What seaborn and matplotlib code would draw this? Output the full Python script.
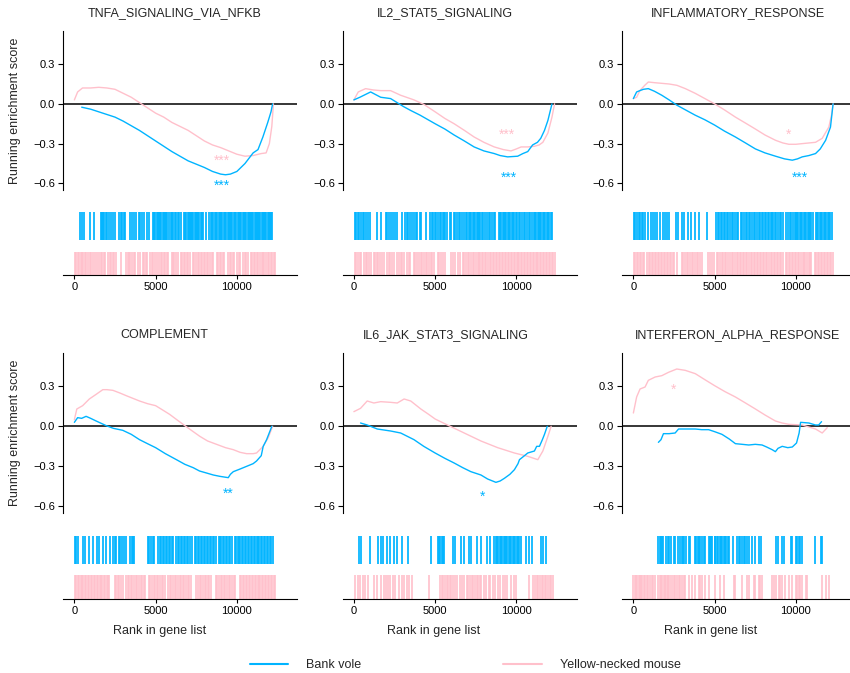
import matplotlib
matplotlib.use("Agg")
import matplotlib.pyplot as plt
from matplotlib.lines import Line2D
import seaborn as sns

# ---------------- data ----------------
titles = ["TNFA_SIGNALING_VIA_NFKB", "IL2_STAT5_SIGNALING", "INFLAMMATORY_RESPONSE",
          "COMPLEMENT", "IL6_JAK_STAT3_SIGNALING", "INTERFERON_ALPHA_RESPONSE"]
species = ["Bank vole", "Yellow-necked mouse"]
x_ticks = [0, 5000, 10000]
x_tick_labels = ["0", "5000", "10000"]
y_ticks = [-0.6, -0.3, 0.0, 0.3]
y_tick_labels = ["\u22120.6", "\u22120.3", "0.0", "0.3"]

# running enrichment score curves (rank, score)
tnfa_vole_rank = [450, 1000, 1500, 2000, 2500, 3000, 3500, 4000, 4500, 5000, 5500, 6000, 6500, 7000, 7500, 7700,
                  8000, 8500, 9000, 9300, 9600, 10000, 10500, 11000, 11300, 11600, 11900, 12100, 12200]
tnfa_vole_es = [-0.025, -0.04, -0.06, -0.08, -0.1, -0.13, -0.165, -0.2, -0.24, -0.28, -0.32, -0.36, -0.395, -0.43,
                -0.455, -0.465, -0.48, -0.51, -0.53, -0.535, -0.53, -0.51, -0.45, -0.37, -0.345, -0.25, -0.14,
                -0.06, 0.0]
tnfa_mouse_rank = [0, 200, 500, 1000, 1500, 2000, 2500, 3000, 3500, 4000, 4500, 5000, 5500, 6000, 6500, 7000, 7500,
                   8000, 8500, 9000, 9500, 10000, 10500, 11000, 11500, 11800, 12000, 12150, 12250]
tnfa_mouse_es = [0.03, 0.09, 0.12, 0.12, 0.125, 0.12, 0.11, 0.08, 0.05, 0.01, -0.03, -0.07, -0.10, -0.14, -0.17,
                 -0.20, -0.24, -0.28, -0.31, -0.33, -0.355, -0.38, -0.395, -0.39, -0.375, -0.37, -0.30, -0.17, 0.0]

il2_vole_rank = [0, 370, 1030, 1650, 2260, 3050, 3500, 4070, 5000, 5600, 6170, 6800, 7400, 8000, 8640, 9000, 9460,
                 10080, 10400, 10700, 11000, 11300, 11500, 11730, 11940, 12190]
il2_vole_es = [0.03, 0.05, 0.09, 0.05, 0.04, -0.02, -0.05, -0.085, -0.15, -0.19, -0.235, -0.28, -0.325, -0.355,
               -0.375, -0.39, -0.40, -0.395, -0.375, -0.36, -0.31, -0.29, -0.26, -0.2, -0.125, 0.0]
il2_mouse_rank = [0, 270, 720, 1200, 1650, 2260, 2880, 3700, 4320, 5000, 5600, 6170, 6800, 7400, 8000, 8640, 9200,
                  9670, 10000, 10290, 10700, 11110, 11400, 11630, 11940, 12190, 12350]
il2_mouse_es = [0.03, 0.09, 0.115, 0.105, 0.10, 0.10, 0.065, 0.03, -0.005, -0.06, -0.11, -0.15, -0.20, -0.25,
                -0.29, -0.325, -0.345, -0.355, -0.34, -0.325, -0.325, -0.32, -0.31, -0.29, -0.22, -0.10, 0.0]

infl_vole_rank = [0, 200, 400, 620, 920, 1300, 1750, 2200, 2680, 3200, 3800, 4400, 5000, 5600, 6280, 6900, 7510,
                  8100, 8750, 9300, 9780, 10100, 10390, 10800, 11210, 11500, 11830, 12130, 12290]
infl_vole_es = [0.04, 0.09, 0.10, 0.11, 0.115, 0.095, 0.065, 0.03, -0.01, -0.045, -0.085, -0.12, -0.16, -0.205,
                -0.25, -0.295, -0.34, -0.37, -0.395, -0.415, -0.425, -0.415, -0.40, -0.39, -0.375, -0.34, -0.275,
                -0.175, 0.0]
infl_mouse_rank = [0, 200, 400, 700, 920, 1300, 1750, 2200, 2680, 3200, 3800, 4400, 5000, 5600, 6280, 6900, 7510,
                   8100, 8750, 9200, 9570, 10000, 10390, 10800, 11210, 11620, 12030, 12200, 12290]
infl_mouse_es = [0.04, 0.05, 0.10, 0.14, 0.165, 0.16, 0.155, 0.15, 0.14, 0.115, 0.08, 0.04, 0.0, -0.045, -0.10,
                 -0.145, -0.19, -0.235, -0.275, -0.295, -0.305, -0.305, -0.30, -0.295, -0.29, -0.26, -0.175, -0.08,
                 0.0]

comp_vole_rank = [0, 200, 450, 720, 1000, 1340, 1960, 2400, 2980, 3500, 4010, 4500, 5000, 5600, 6280, 6800, 7310,
                  7700, 8130, 8550, 8950, 9470, 9600, 9780, 10200, 10600, 11000, 11210, 11500, 11620, 11830, 12150]
comp_vole_es = [0.03, 0.065, 0.06, 0.075, 0.06, 0.04, 0.005, -0.015, -0.03, -0.06, -0.10, -0.13, -0.16, -0.205,
                -0.25, -0.285, -0.31, -0.335, -0.35, -0.365, -0.375, -0.385, -0.36, -0.34, -0.32, -0.30, -0.28,
                -0.26, -0.22, -0.15, -0.10, 0.0]
comp_mouse_rank = [0, 150, 510, 920, 1340, 1750, 2000, 2370, 2800, 3190, 3600, 4010, 4500, 5000, 5400, 5860, 6300,
                   6690, 7200, 7720, 8200, 8750, 9300, 9780, 10200, 10600, 11000, 11210, 11620, 11930, 12200]
comp_mouse_es = [0.05, 0.13, 0.155, 0.205, 0.24, 0.275, 0.275, 0.27, 0.25, 0.23, 0.21, 0.19, 0.17, 0.155, 0.125,
                 0.09, 0.05, 0.015, -0.03, -0.075, -0.11, -0.135, -0.16, -0.175, -0.195, -0.205, -0.205, -0.20,
                 -0.15, -0.085, 0.0]

il6_vole_rank = [410, 820, 1440, 2260, 2880, 3700, 4300, 5000, 5600, 6170, 6700, 7200, 7820, 8230, 8740, 9000, 9260,
                 9600, 9880, 10100, 10190, 10500, 10700, 11110, 11250, 11420, 11600, 11730, 11900]
il6_vole_es = [0.025, 0.01, -0.02, -0.035, -0.05, -0.10, -0.15, -0.2, -0.24, -0.275, -0.31, -0.34, -0.365, -0.395,
               -0.42, -0.41, -0.39, -0.36, -0.325, -0.28, -0.25, -0.22, -0.2, -0.185, -0.15, -0.15, -0.10, -0.06, 0.0]
il6_mouse_rank = [0, 410, 820, 1230, 1650, 2260, 2670, 3090, 3500, 4120, 4600, 5000, 5760, 6790, 7820, 8850, 9880,
                  10700, 11320, 11630, 11940, 12140]
il6_mouse_es = [0.11, 0.135, 0.19, 0.175, 0.185, 0.18, 0.175, 0.205, 0.19, 0.13, 0.09, 0.055, 0.01, -0.05, -0.11,
                -0.16, -0.20, -0.225, -0.25, -0.185, -0.075, 0.0]

ifn_vole_rank = [1540, 1700, 1850, 2200, 2570, 2780, 3300, 3810, 4200, 4630, 5000, 5450, 5900, 6280, 6700, 7100, 7500,
                 7920, 8200, 8540, 8740, 8900, 9160, 9500, 9780, 10040, 10200, 10290, 10800, 11210, 11400, 11580]
ifn_vole_es = [-0.12, -0.10, -0.055, -0.055, -0.05, -0.02, -0.02, -0.02, -0.025, -0.025, -0.04, -0.06, -0.095, -0.13,
               -0.135, -0.14, -0.135, -0.14, -0.155, -0.175, -0.19, -0.165, -0.15, -0.16, -0.155, -0.125, -0.05,
               0.03, 0.025, 0.01, 0.01, 0.035]
ifn_mouse_rank = [0, 200, 410, 720, 920, 1340, 1750, 2160, 2670, 3190, 3810, 4400, 5000, 5640, 6280, 6900, 7510, 8100,
                  8740, 9150, 9570, 10390, 10800, 11210, 11620, 11930]
ifn_mouse_es = [0.10, 0.22, 0.28, 0.295, 0.345, 0.37, 0.38, 0.405, 0.43, 0.42, 0.395, 0.35, 0.305, 0.26, 0.22, 0.175,
                0.13, 0.085, 0.04, 0.025, 0.015, 0.01, -0.005, -0.02, -0.05, -0.01]

# gene-set hit positions (barcodes)
tnfa_vole_hits = [370, 470, 600, 950, 1190, 1640, 1700, 1760, 1850, 1940, 2000, 2110, 2250, 2400, 2480, 2770, 2870,
                  2950, 3050, 3140, 3420, 3550, 3690, 3790, 3960, 4060, 4160, 4300, 4450, 4610, 4820, 4880, 4950,
                  5060, 5120, 5200, 5280, 5350, 5430, 5500, 5580, 5650, 5720, 5800, 5950, 6020, 6100, 6180, 6250,
                  6350, 6450, 6560, 6760, 6830, 6900, 6970, 7050, 7120, 7200, 7260, 7320, 7400, 7470, 7550, 7620,
                  7700, 7780, 7860, 7930, 8100, 8260, 8400, 8470, 8550, 8650, 8720, 8800, 8880, 8950, 9030, 9100,
                  9180, 9250, 9330, 9430, 9500, 9570, 9650, 9720, 9800, 9870, 9940, 10050, 10120, 10200, 10270,
                  10350, 10420, 10500, 10560, 10660, 10730, 10800, 10870, 10950, 11020, 11100, 11170, 11250, 11320,
                  11380, 11450, 11520, 11600, 11670, 11750, 11820, 11900, 11970, 12040, 12110, 12180]
tnfa_mouse_hits = [20, 110, 200, 290, 380, 470, 560, 650, 740, 820, 960, 1050, 1140, 1240, 1420, 1520, 1610, 1700,
                   1800, 1890, 2080, 2170, 2260, 2360, 2460, 2560, 2870, 3180, 3270, 3360, 3450, 3550, 3640, 3730,
                   3920, 4010, 4200, 4290, 4380, 4480, 4660, 4760, 4850, 4950, 5060, 5230, 5320, 5420, 5510, 5600,
                   5700, 5790, 5980, 6070, 6160, 6260, 6350, 6540, 6630, 6720, 6820, 6910, 7000, 7100, 7280, 7380,
                   7480, 7590, 7680, 7780, 7870, 7960, 8060, 8150, 8250, 8340, 8440, 8550, 8770, 8860, 8960, 9050,
                   9140, 9230, 9470, 9560, 9650, 9750, 9840, 10020, 10120, 10210, 10400, 10490, 10580, 10680, 10860,
                   10960, 11050, 11140, 11240, 11330, 11420, 11520, 11610, 11700, 11800, 11890, 11980, 12080, 12170,
                   12260, 12340]

il2_vole_hits = [50, 150, 250, 330, 450, 560, 650, 760, 870, 1000, 1430, 1640, 1950, 2050, 2150, 2300, 2400, 2500,
                 2660, 2970, 3130, 3250, 3360, 3480, 3590, 3700, 3800, 3890, 4040, 4160, 4410, 4710, 4800, 4860,
                 4980, 5080, 5180, 5280, 5380, 5480, 5560, 5630, 5740, 5900, 6000, 6150, 6250, 6350, 6450, 6560,
                 6660, 6760, 6870, 6970, 7070, 7150, 7230, 7310, 7390, 7470, 7550, 7620, 7680, 7790, 7880, 7970,
                 8080, 8180, 8300, 8400, 8500, 8600, 8710, 8910, 8990, 9070, 9150, 9230, 9310, 9390, 9470, 9550,
                 9630, 9710, 9790, 9870, 9950, 10040, 10140, 10250, 10350, 10450, 10560, 10660, 10760, 10860, 10960,
                 11060, 11140, 11220, 11300, 11380, 11460, 11540, 11620, 11700, 11780, 11860, 11940, 12020, 12100,
                 12190]
il2_mouse_hits = [60, 160, 250, 350, 450, 640, 740, 830, 930, 1030, 1220, 1320, 1410, 1510, 1620, 1720, 1840, 2050,
                  2150, 2250, 2350, 2450, 2660, 2760, 2870, 2970, 3080, 3280, 3380, 3480, 3690, 3790, 3900, 4000,
                  4100, 4200, 4310, 4410, 4510, 4610, 4720, 4820, 4930, 5150, 5260, 5370, 5480, 5590, 6000, 6100,
                  6200, 6400, 6500, 6700, 6800, 6900, 7000, 7100, 7200, 7300, 7380, 7520, 7610, 7700, 7790, 7880,
                  7970, 8070, 8160, 8260, 8350, 8450, 8540, 8630, 8720, 8820, 8910, 9020, 9110, 9200, 9290, 9380,
                  9470, 9560, 9650, 9740, 9830, 9920, 10010, 10100, 10190, 10280, 10370, 10460, 10550, 10640, 10730,
                  10820, 10910, 11000, 11090, 11180, 11270, 11360, 11450, 11540, 11630, 11720, 11810, 11900, 11990,
                  12080, 12170, 12260, 12360]

infl_vole_hits = [30, 130, 230, 330, 430, 530, 620, 720, 920, 1070, 1190, 1330, 1480, 1640, 1800, 1950, 2090, 2210,
                  2620, 2770, 2970, 3110, 3380, 3520, 3790, 4060, 4510, 5080, 5180, 5280, 5380, 5480, 5560, 5650,
                  5750, 5850, 5950, 6050, 6150, 6250, 6350, 6450, 6600, 6700, 6800, 6900, 7000, 7100, 7200, 7300,
                  7400, 7500, 7600, 7700, 7790, 7890, 7990, 8080, 8170, 8260, 8350, 8440, 8530, 8620, 8710, 8800,
                  8900, 9000, 9100, 9220, 9380, 9530, 9630, 9730, 9830, 9940, 10000, 10080, 10160, 10240, 10320,
                  10400, 10480, 10560, 10640, 10720, 10800, 10880, 10960, 11060, 11230, 11300, 11370, 11470, 11550,
                  11630, 11710, 11790, 11870, 11950, 12030, 12110, 12230]
infl_mouse_hits = [20, 110, 200, 300, 390, 480, 570, 660, 850, 940, 1040, 1130, 1220, 1320, 1410, 1500, 1600, 1690,
                   1780, 1880, 1970, 2060, 2160, 2250, 2340, 2440, 2530, 2660, 2970, 3070, 3170, 3270, 3380, 3480,
                   3580, 3690, 3790, 3900, 4000, 4100, 4200, 4610, 4730, 4840, 4960, 5120, 5220, 5320, 5430, 5530,
                   5630, 5730, 5840, 5940, 6040, 6150, 6250, 6350, 6450, 6540, 6640, 6730, 6830, 6920, 7020, 7110,
                   7210, 7300, 7400, 7490, 7590, 7680, 7780, 7870, 7970, 8060, 8160, 8250, 8350, 8440, 8540, 8630,
                   8730, 8820, 8920, 9010, 9110, 9220, 9380, 9470, 9570, 9660, 9750, 9850, 9940, 10030, 10130, 10220,
                   10310, 10410, 10500, 10590, 10690, 10780, 10870, 10960, 11170, 11260, 11350, 11440, 11540, 11630,
                   11720, 11810, 11900, 11990, 12090, 12190, 12290]

comp_vole_hits = [20, 120, 200, 510, 680, 880, 1130, 1380, 1540, 1750, 1960, 2200, 2370, 2470, 2570, 2720, 2820,
                  2920, 3030, 3190, 3440, 3520, 3600, 3700, 4530, 4620, 4720, 4810, 4900, 5150, 5240, 5340, 5430,
                  5530, 5620, 5720, 5810, 5900, 6000, 6100, 6250, 6350, 6450, 6540, 6640, 6740, 6830, 6920, 7020,
                  7120, 7220, 7420, 7510, 7600, 7700, 7790, 7880, 7970, 8060, 8150, 8240, 8330, 8420, 8510, 8600,
                  8690, 8870, 8960, 9050, 9140, 9230, 9320, 9410, 9500, 9590, 9680, 9860, 9950, 10040, 10130, 10220,
                  10310, 10400, 10490, 10580, 10670, 10760, 10850, 10940, 11030, 11120, 11210, 11300, 11390, 11480,
                  11570, 11660, 11750, 11840, 11930, 12020, 12110, 12200]
comp_mouse_hits = [20, 110, 200, 290, 380, 470, 560, 650, 740, 830, 920, 1010, 1100, 1190, 1280, 1370, 1460, 1550,
                   1640, 1730, 1820, 1910, 2000, 2080, 2160, 2470, 2570, 2670, 2770, 2870, 2970, 3170, 3270, 3370,
                   3470, 3570, 3670, 3770, 3870, 3970, 4070, 4170, 4270, 4370, 4570, 4670, 4770, 4870, 4970, 5070,
                   5170, 5270, 5370, 5470, 5570, 5770, 5870, 5970, 6070, 6170, 6270, 6370, 6470, 6570, 6670, 6770,
                   6870, 6970, 7070, 7200, 7510, 7610, 7710, 7810, 7910, 8010, 8110, 8210, 8310, 8410, 8700, 8800,
                   8900, 9000, 9100, 9200, 9300, 9400, 9500, 9600, 9700, 9800, 9880, 10190, 10280, 10370, 10460,
                   10550, 10640, 10730, 10820, 10910, 11000, 11090, 11180, 11270, 11360, 11450, 11540, 11630, 11720,
                   11810, 11900, 11990, 12080, 12170, 12260, 12350]

il6_vole_hits = [300, 450, 1000, 1480, 1650, 1810, 2020, 2200, 2450, 2680, 2950, 3300, 4750, 5150, 5220, 5300, 5400,
                 5480, 5560, 6100, 6200, 6600, 6800, 7100, 7200, 7550, 7850, 8200, 8350, 8650, 8730, 8810, 8890,
                 8970, 9050, 9130, 9210, 9290, 9370, 9450, 9530, 9610, 9690, 9770, 9850, 9930, 10010, 10090, 10170,
                 10270, 10600, 10800, 10950, 11500, 11650, 11850]
il6_mouse_hits = [50, 250, 400, 550, 700, 850, 1230, 1440, 1650, 1850, 1980, 2100, 2250, 2400, 2550, 2780, 2950,
                  3100, 3250, 3400, 3550, 4650, 5300, 5400, 5500, 5600, 5700, 5800, 5900, 6000, 6100, 6200, 6350,
                  6500, 6650, 6800, 6950, 7050, 7150, 7250, 7350, 7450, 7550, 7650, 7750, 7850, 8000, 8150, 8300,
                  8400, 8550, 8700, 8850, 9000, 9150, 9300, 9450, 9650, 9850, 10000, 10750, 11050, 11150, 11250,
                  11350, 11450, 11550, 11650, 11750, 11850, 11950, 12050, 12150, 12250]

ifn_vole_hits = [1540, 1620, 1700, 1750, 1850, 2000, 2120, 2200, 2330, 2470, 2570, 2740, 2880, 2980, 3040, 3090,
                 3230, 3400, 3500, 3810, 3880, 3960, 4040, 4120, 4220, 4320, 4420, 4630, 4700, 4770, 4840, 5000,
                 5040, 5150, 5230, 5310, 5380, 5450, 5560, 5640, 5720, 5800, 5870, 6130, 6380, 6480, 6580, 6680,
                 6790, 6890, 6990, 7100, 7310, 7510, 7720, 7860, 8750, 8910, 9120, 9260, 9670, 9780, 9980, 10080,
                 10180, 10280, 10390, 11170, 11550, 11620]
ifn_mouse_hits = [0, 80, 160, 240, 320, 400, 480, 560, 640, 720, 820, 920, 1030, 1130, 1230, 1340, 1540, 1620, 1700,
                  1780, 1860, 1940, 2020, 2100, 2160, 2260, 2360, 2470, 2570, 2680, 2780, 2880, 2980, 3090, 3190,
                  3400, 3600, 3810, 4010, 4110, 4220, 4420, 4630, 5040, 5350, 5560, 6170, 6280, 6690, 7000, 7100,
                  7410, 7510, 7720, 7820, 7920, 8540, 8640, 8750, 8950, 9050, 9160, 9360, 9570, 9780, 9980, 10080,
                  10180, 10280, 10390, 10600, 10700, 11630, 11830, 12040]

# significance labels: (series index, text, rank, score)
tnfa_sig = [(1, "***", 9100, -0.405), (0, "***", 9100, -0.59)]
il2_sig = [(1, "***", 9420, -0.205), (0, "***", 9530, -0.535)]
infl_sig = [(1, "*", 9570, -0.205), (0, "***", 10250, -0.535)]
comp_sig = [(0, "**", 9470, -0.48)]
il6_sig = [(0, "*", 7920, -0.50)]
ifn_sig = [(1, "*", 2470, 0.30)]

panels = [
    (tnfa_vole_rank, tnfa_vole_es, tnfa_mouse_rank, tnfa_mouse_es, tnfa_vole_hits, tnfa_mouse_hits, tnfa_sig),
    (il2_vole_rank, il2_vole_es, il2_mouse_rank, il2_mouse_es, il2_vole_hits, il2_mouse_hits, il2_sig),
    (infl_vole_rank, infl_vole_es, infl_mouse_rank, infl_mouse_es, infl_vole_hits, infl_mouse_hits, infl_sig),
    (comp_vole_rank, comp_vole_es, comp_mouse_rank, comp_mouse_es, comp_vole_hits, comp_mouse_hits, comp_sig),
    (il6_vole_rank, il6_vole_es, il6_mouse_rank, il6_mouse_es, il6_vole_hits, il6_mouse_hits, il6_sig),
    (ifn_vole_rank, ifn_vole_es, ifn_mouse_rank, ifn_mouse_es, ifn_vole_hits, ifn_mouse_hits, ifn_sig),
]

# ---------------- style ----------------
sns.set_style("ticks")
plt.rcParams["font.family"] = ["Liberation Sans", "DejaVu Sans"]
plt.rcParams["axes.unicode_minus"] = True
BLUE = "#00B4FF"
PINK = "#FFC0CB"
colors = [BLUE, PINK]

W, H = 850, 673
fig = plt.figure(figsize=(W / 100, H / 100), dpi=100)


def box(left, top, width, height):
    return [left / W, 1 - (top + height) / H, width / W, height / H]


col_left = [63, 342.5, 622]
ax_w = 234
es_top = [31, 353]
es_h = [159, 160]
blue_top = [212, 536]
blue_h = 28
pink_top = [252, 575]
pink_h = [23, 24]
title_pos = [(175, 13), (445, 13), (738, 13), (164, 335), (446, 335), (738, 335)]
xlabel_pos = [(160, 631), (434, 631), (711, 631)]
XLIM = (-700, 13700)
YLIM = (-0.65, 0.55)


def barcode(ax, hits, color, lw):
    ax.vlines(hits, 0, 1, transform=ax.get_xaxis_transform(), colors=color, linewidth=lw)
    ax.set_xlim(*XLIM)
    ax.set_ylim(0, 1)


for i, (vr, ve, mr, me, vh, mh, sig) in enumerate(panels):
    r, c = divmod(i, 3)
    ax = fig.add_axes(box(col_left[c], es_top[r], ax_w, es_h[r]))
    ax.axhline(0, color="black", lw=1.1, zorder=1)
    sns.lineplot(x=mr, y=me, color=PINK, lw=1.0, ax=ax, estimator=None, zorder=2)
    sns.lineplot(x=vr, y=ve, color=BLUE, lw=1.0, ax=ax, estimator=None, zorder=3)
    for s_idx, txt, xr, ys in sig:
        ax.text(xr, ys - 0.055, txt, color=colors[s_idx], ha="center", va="baseline", fontsize=10)
    ax.set_xlim(*XLIM)
    ax.set_ylim(*YLIM)
    ax.set_yticks(y_ticks)
    ax.set_yticklabels(y_tick_labels)
    ax.set_xticks([])
    ax.set_xlabel("")
    ax.set_ylabel("")
    for sp in ["top", "right", "bottom"]:
        ax.spines[sp].set_visible(False)
    ax.spines["left"].set_linewidth(0.8)
    ax.spines["left"].set_color("black")
    ax.tick_params(axis="y", labelsize=8, length=3.5, width=0.8, pad=2, colors="black")
    ax.patch.set_alpha(0)

    axb = fig.add_axes(box(col_left[c], blue_top[r], ax_w, blue_h))
    barcode(axb, vh, BLUE, 1.25)
    axb.axis("off")

    axp = fig.add_axes(box(col_left[c], pink_top[r], ax_w, pink_h[r]))
    barcode(axp, mh, PINK, 1.2)
    axp.set_yticks([])
    axp.set_xticks(x_ticks)
    axp.set_xticklabels(x_tick_labels)
    for sp in ["top", "right", "left"]:
        axp.spines[sp].set_visible(False)
    axp.spines["bottom"].set_linewidth(0.8)
    axp.spines["bottom"].set_color("black")
    axp.spines["bottom"].set_zorder(5)
    axp.tick_params(axis="x", labelsize=8, length=3, width=0.8, pad=2, colors="black")
    axp.patch.set_alpha(0)

    tx, ty = title_pos[i]
    fig.text(tx / W, 1 - ty / H, titles[i], ha="center", va="center", fontsize=9)

for r in range(2):
    yc = es_top[r] + es_h[r] / 2
    fig.text(15 / W, 1 - yc / H, "Running enrichment score", rotation=90, ha="center", va="center", fontsize=9)

for (xx, yy) in xlabel_pos:
    fig.text(xx / W, 1 - yy / H, "Rank in gene list", ha="center", va="center", fontsize=9)

handles = [Line2D([], [], color=BLUE, lw=1.5), Line2D([], [], color=PINK, lw=1.5)]
fig.legend(handles, species, loc="center", bbox_to_anchor=(465 / W, 1 - 665 / H), ncol=2, frameon=False,
           fontsize=9, handlelength=3.1, handletextpad=1.4, columnspacing=11.4, borderpad=0, borderaxespad=0)

fig.savefig("out.png", dpi=100)
